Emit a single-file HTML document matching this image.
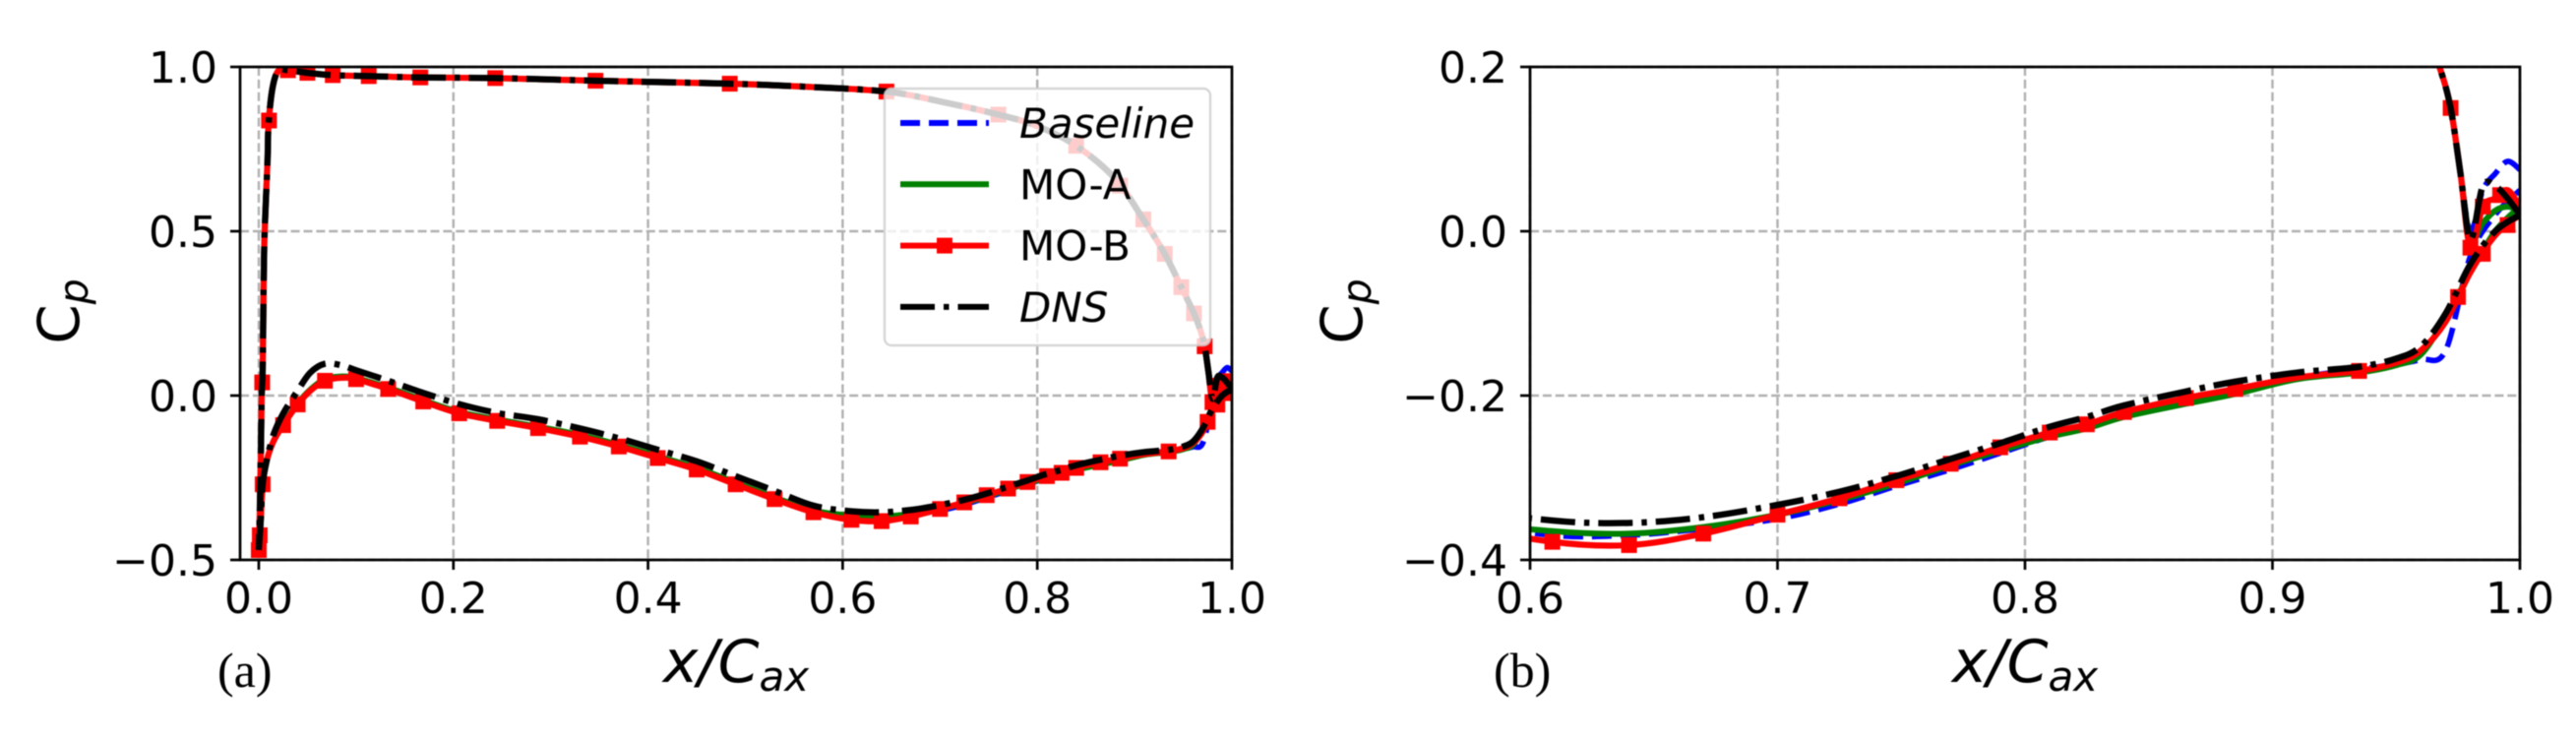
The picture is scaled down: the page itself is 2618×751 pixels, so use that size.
<!DOCTYPE html>
<html lang="en">
<head>
<meta charset="utf-8">
<title>Cp distribution charts</title>
<style>
html,body{margin:0;padding:0;background:#fff;width:2618px;height:751px;overflow:hidden}
svg{display:block;position:absolute;left:0;top:0;filter:blur(0.5px)}
text{font-family:"DejaVu Sans","Liberation Sans",sans-serif;fill:#000}
</style>
</head>
<body>
<svg id="fig" width="2618" height="751" viewBox="0 0 2618 751" xmlns="http://www.w3.org/2000/svg"></svg>
<script>
const upperX = [0,.001,.002,.003,.004,.005,.006,.009,.01,.014,.02,.03,.05,.076,.113,.166,.243,.346,.484,.56,.645,.7,.76,.8,.84,.88,.909,.931,.948,.961,.9675,.972,.976,.98,.985,.99,.995,1];
const baselineUpper = [-.47,-.36,-.2,0,.08,.335,.494,.715,.823,.934,.988,.99,.982,.975,.972,.968,.966,.958,.949,.94,.925,.895,.855,.82,.76,.66,.536,.431,.33,.25,.2,.15,.07,.0,.05,.07,.085,.075];
const moAUpper = [-.47,-.36,-.2,0,.08,.335,.494,.715,.823,.934,.988,.99,.982,.975,.972,.968,.966,.958,.949,.94,.925,.895,.855,.82,.76,.66,.536,.431,.33,.25,.2,.15,.07,-.01,.01,.025,.03,.025];
const moBUpper = [-.47,-.36,-.2,0,.08,.335,.494,.715,.823,.934,.988,.99,.982,.975,.972,.968,.966,.958,.949,.94,.925,.895,.855,.82,.76,.66,.536,.431,.33,.25,.2,.15,.07,-.02,.03,.04,.05,.03];
const dnsUpper = [-.47,-.36,-.2,0,.08,.335,.494,.715,.823,.934,.988,.99,.982,.975,.972,.968,.966,.958,.949,.94,.925,.895,.855,.82,.76,.66,.536,.431,.33,.25,.2,.15,.07,-.01,.055,.055,.04,.02];

const lowerX = [0,.002,.004,.008,.015,.025,.04,.053,.068,.085,.1,.133,.169,.206,.245,.287,.33,.37,.41,.45,.49,.53,.57,.609,.64,.67,.7,.725,.748,.77,.79,.81,.825,.84,.865,.885,.91,.935,.95,.96,.97,.98,.99,1];
const baselineLower = [-.47,-.38,-.27,-.2,-.14,-.088,-.024,.018,.05,.058,.053,.024,-.014,-.05,-.073,-.095,-.122,-.15,-.185,-.22,-.265,-.31,-.35,-.37,-.37,-.362,-.35,-.332,-.31,-.29,-.27,-.25,-.238,-.222,-.205,-.192,-.178,-.168,-.162,-.156,-.145,-.03,.02,.05];
const moALower = [-.47,-.38,-.27,-.2,-.14,-.088,-.024,.018,.05,.058,.053,.024,-.014,-.05,-.073,-.095,-.12,-.15,-.185,-.22,-.265,-.31,-.35,-.365,-.368,-.36,-.345,-.327,-.307,-.285,-.267,-.25,-.24,-.226,-.21,-.198,-.18,-.172,-.163,-.15,-.105,-.05,0,.03];
const moBLower = [-.47,-.38,-.27,-.2,-.14,-.09,-.027,.015,.045,.054,.05,.02,-.018,-.054,-.077,-.099,-.125,-.155,-.19,-.225,-.27,-.315,-.355,-.378,-.382,-.368,-.345,-.325,-.303,-.283,-.263,-.245,-.235,-.22,-.203,-.192,-.178,-.17,-.16,-.145,-.11,-.05,-.005,.02];
const dnsLower = [-.47,-.38,-.27,-.2,-.12,-.055,.015,.07,.097,.092,.077,.045,.008,-.026,-.053,-.072,-.1,-.13,-.165,-.2,-.245,-.29,-.335,-.352,-.355,-.348,-.333,-.317,-.298,-.277,-.258,-.238,-.226,-.212,-.195,-.183,-.172,-.165,-.155,-.14,-.1,-.04,0,.02];

const moBUpperMarkerX = [.0035,.0105,.03,.05,.076,.113,.166,.243,.346,.484,.645,.76,.84,.885,.909,.931,.948,.961,.972,.98,.985,.992];
const moBLowerMarkerX = [0,.001,.004,.025,.04,.068,.1,.133,.169,.206,.245,.287,.33,.37,.41,.45,.49,.53,.57,.609,.64,.67,.7,.725,.748,.77,.79,.81,.825,.84,.865,.885,.935,.975,.985,.995];

const panelAXTicks = ["0.0","0.2","0.4","0.6","0.8","1.0"];
const panelAYTicks = ["1.0","0.5","0.0","−0.5"];
const panelBXTicks = ["0.6","0.7","0.8","0.9","1.0"];
const panelBYTicks = ["0.2","0.0","−0.2","−0.4"];
const legendLabels = ["Baseline","MO-A","MO-B","DNS"];

const NS = "http://www.w3.org/2000/svg";
const fig = document.getElementById("fig");
function el(tag, attrs, parent, text){
  const e = document.createElementNS(NS, tag);
  for (const k in attrs) e.setAttribute(k, attrs[k]);
  if (text !== undefined) e.textContent = text;
  (parent || fig).appendChild(e);
  return e;
}
function num(s){ return parseFloat(String(s).replace("−","-")); }
function interp(xs, ys, x){
  if (x <= xs[0]) return ys[0];
  for (let i = 1; i < xs.length; i++){
    if (x <= xs[i]) { const t = (x - xs[i-1]) / (xs[i] - xs[i-1]); return ys[i-1] + t * (ys[i] - ys[i-1]); }
  }
  return ys[ys.length-1];
}
function smoothPath(pts){
  let d = "M" + pts[0][0].toFixed(2) + " " + pts[0][1].toFixed(2);
  for (let i = 0; i < pts.length - 1; i++){
    const p0 = pts[Math.max(i-1,0)], p1 = pts[i], p2 = pts[i+1], p3 = pts[Math.min(i+2,pts.length-1)];
    const c1x = p1[0] + (p2[0]-p0[0])/6, c1y = p1[1] + (p2[1]-p0[1])/6;
    const c2x = p2[0] - (p3[0]-p1[0])/6, c2y = p2[1] - (p3[1]-p1[1])/6;
    d += "C" + c1x.toFixed(2) + " " + c1y.toFixed(2) + " " + c2x.toFixed(2) + " " + c2y.toFixed(2) + " " + p2[0].toFixed(2) + " " + p2[1].toFixed(2);
  }
  return d;
}

function drawPanel(id, box, xMin, xMax, yMin, yMax, xTicks, yTicks, tagLabel, tagX, yTitleX){
  const sx = v => box.l + (v - xMin) / (xMax - xMin) * (box.r - box.l);
  const sy = v => box.b - (v - yMin) / (yMax - yMin) * (box.b - box.t);

  const g = el("g", {}, fig);
  
  

  const defs = el("defs", {}, g);
  const cp = el("clipPath", {id: id + "-clip"}, defs);
  el("rect", {x: box.l, y: box.t, width: box.r - box.l, height: box.b - box.t}, cp);

  xTicks.forEach(t => {
    const x = sx(num(t));
    const line = el("line", {x1: x, x2: x, y1: box.t, y2: box.b, stroke: "#b0b0b0", "stroke-width": 2.4, "stroke-dasharray": "9 3.9"}, g);
    
    
  });
  yTicks.forEach(t => {
    const y = sy(num(t));
    const line = el("line", {x1: box.l, x2: box.r, y1: y, y2: y, stroke: "#b0b0b0", "stroke-width": 2.4, "stroke-dasharray": "9 3.9"}, g);
    
    
  });

  const plot = el("g", {"clip-path": "url(#" + id + "-clip)"}, g);
  
  

  const series = [
    {name: "baseline", up: baselineUpper, lo: baselineLower, color: "#0000ff", dash: "20 9", w: 5.6},
    {name: "mo-a", up: moAUpper, lo: moALower, color: "#008000", dash: "", w: 6},
    {name: "mo-b", up: moBUpper, lo: moBLower, color: "#ff0000", dash: "", w: 6.2},
    {name: "dns", up: dnsUpper, lo: dnsLower, color: "#000000", dash: "35 9 5.5 9", w: 6.4}
  ];
  series.forEach(s => {
    const upPts = upperX.map((x,i) => [sx(x), sy(s.up[i])]).reverse();
    const loPts = lowerX.map((x,i) => [sx(x), sy(s.lo[i])]);
    const attrs = {d: smoothPath(upPts) + " " + smoothPath(loPts), fill: "none", stroke: s.color, "stroke-width": s.w, "stroke-linejoin": "round"};
    if (s.dash) attrs["stroke-dasharray"] = s.dash;
    const path = el("path", attrs, plot);
    
    
    if (s.name === "mo-b") {
      moBUpperMarkerX.forEach(x => {
        const m = el("rect", {x: sx(x) - 8, y: sy(interp(upperX, moBUpper, x)) - 8, width: 16, height: 16, fill: "#ff0000"}, plot);
        
        
      });
      moBLowerMarkerX.forEach(x => {
        const m = el("rect", {x: sx(x) - 8, y: sy(interp(lowerX, moBLower, x)) - 8, width: 16, height: 16, fill: "#ff0000"}, plot);
        
        
      });
    }
  });

  const frame = el("rect", {x: box.l, y: box.t, width: box.r - box.l, height: box.b - box.t, fill: "none", stroke: "#000", "stroke-width": 2.7}, g);
  
  

  xTicks.forEach(t => {
    const x = sx(num(t));
    const mark = el("line", {x1: x, x2: x, y1: box.b, y2: box.b + 10, stroke: "#000", "stroke-width": 2.7}, g);
    
    
    const lab = el("text", {x: x, y: box.b + 54, "text-anchor": "middle", "font-size": 44}, g, t);
    
    
  });
  yTicks.forEach(t => {
    const y = sy(num(t));
    const mark = el("line", {x1: box.l - 10, x2: box.l, y1: y, y2: y, stroke: "#000", "stroke-width": 2.7}, g);
    
    
    const lab = el("text", {x: box.l - 23, y: y + 16, "text-anchor": "end", "font-size": 44}, g, t);
    
    
  });

  const xl = el("text", {x: (box.l + box.r) / 2, y: box.b + 124, "text-anchor": "middle", "font-size": 60, "font-style": "italic"}, g);
  
  
  el("tspan", {}, xl, "x/C");
  el("tspan", {dy: 9, "font-size": 42}, xl, "ax");

  const ycy = (box.t + box.b) / 2 - 2;
  const yl = el("text", {x: yTitleX, y: ycy, "text-anchor": "middle", "font-size": 58, transform: "rotate(-90 " + yTitleX + " " + ycy + ")"}, g);
  
  
  el("tspan", {}, yl, "C");
  el("tspan", {dy: 9, "font-size": 41, "font-style": "italic"}, yl, "p");

  const tag = el("text", {x: tagX, y: 698, "font-size": 50, style: 'font-family:"Liberation Serif",serif'}, g, tagLabel);
  
  
}

drawPanel("panel-a", {l: 244, r: 1252, t: 68, b: 569}, -0.0192, 1, -0.5, 1, panelAXTicks, panelAYTicks, "(a)", 221, 80);
drawPanel("panel-b", {l: 1555, r: 2561, t: 68, b: 569}, 0.6, 1, -0.4, 0.2, panelBXTicks, panelBYTicks, "(b)", 1518, 1384);

const legend = el("g", {}, fig);


const legendBox = el("rect", {x: 899, y: 90, width: 331, height: 261, rx: 7, fill: "#fff", "fill-opacity": 0.8, stroke: "#cccccc", "stroke-opacity": 0.8, "stroke-width": 2.4}, legend);


const legendStyles = [
  {color: "#0000ff", dash: "20 9", italic: true},
  {color: "#008000", dash: "", italic: false},
  {color: "#ff0000", dash: "", italic: false, marker: true},
  {color: "#000000", dash: "35 9 5.5 9", italic: true}
];
legendLabels.forEach((label, i) => {
  const y = 125 + i * 62.3;
  const st = legendStyles[i];
  const attrs = {x1: 915, x2: 1005, y1: y, y2: y, stroke: st.color, "stroke-width": 6};
  if (st.dash) attrs["stroke-dasharray"] = st.dash;
  const sample = el("line", attrs, legend);
  
  
  if (st.marker) {
    const mk = el("rect", {x: 952, y: y - 8, width: 16, height: 16, fill: st.color}, legend);
    
    
  }
  const tx = el("text", {x: 1036, y: y + 15, "font-size": 42, "font-style": st.italic ? "italic" : "normal"}, legend, label);
  
  
});
</script>
</body>
</html>
